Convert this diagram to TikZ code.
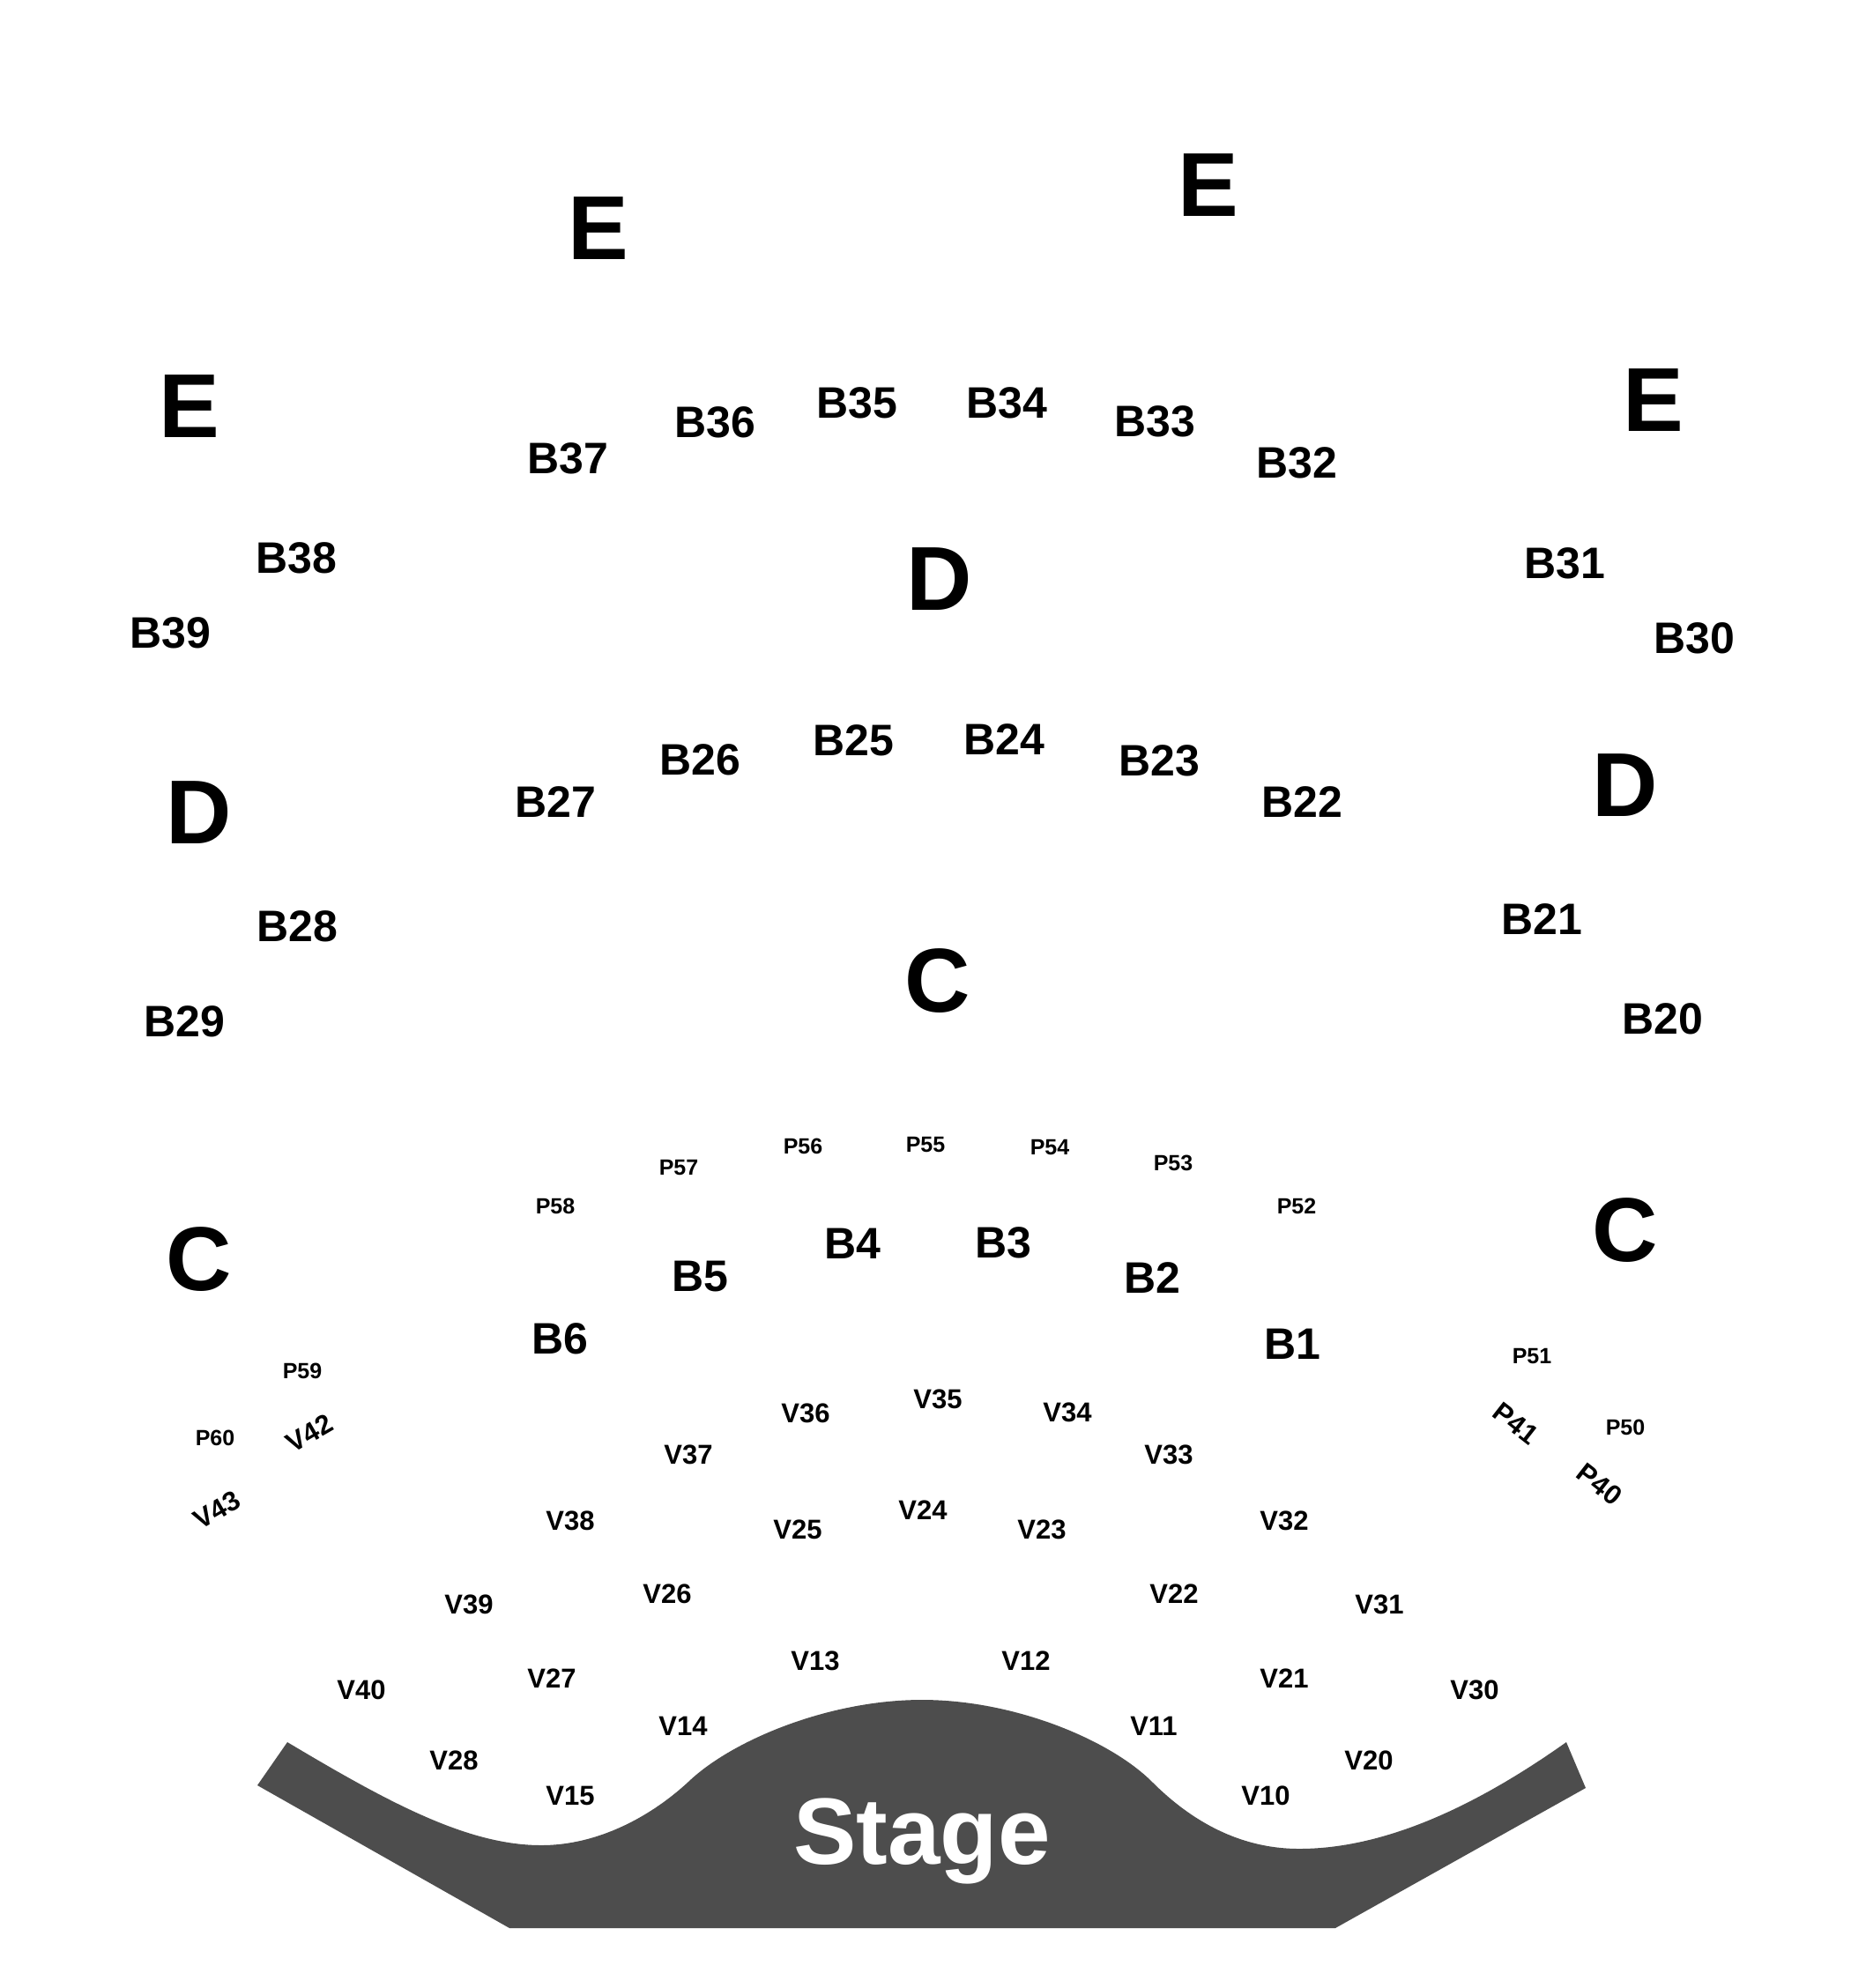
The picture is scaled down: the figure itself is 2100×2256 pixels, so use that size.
\documentclass[tikz,border=0pt]{standalone}
\usepackage{fontspec}
\setmainfont{Liberation Sans}
\begin{document}
\begin{tikzpicture}[x=0.5pt,y=-0.5pt,
  lbl/.style={inner sep=0pt,outer sep=0pt,text depth=0pt,font=\bfseries},
  zone/.style={lbl,font=\fontsize{51.5}{52}\selectfont\bfseries,text height=36.9pt},
  bsec/.style={lbl,font=\fontsize{25}{26}\selectfont\bfseries,text height=17.9pt},
  vsec/.style={lbl,font=\fontsize{15.5}{16}\selectfont\bfseries,text height=11.1pt},
  psec/.style={lbl,font=\fontsize{12.5}{13}\selectfont\bfseries,text height=8.95pt},
  stagelbl/.style={lbl,text=white,font=\fontsize{53.5}{54}\selectfont\bfseries,text height=38.3pt},
  stagefill/.style={fill=stagegrey,draw=none}]
\definecolor{stagegrey}{HTML}{4D4D4D}
\useasboundingbox (0,0) rectangle (2100,2256);
\fill[white] (0,0) rectangle (2100,2256);

% Stage
\path[stagefill] (326,1977)
  .. controls (440,2045) and (530,2094) .. (614,2094)
  .. controls (680,2094) and (740,2060) .. (781,2022)
  .. controls (830,1975) and (940,1929) .. (1046,1929)
  .. controls (1152,1929) and (1260,1975) .. (1307,2022)
  .. controls (1345,2060) and (1400,2098) .. (1474,2098)
  .. controls (1560,2098) and (1660,2060) .. (1777,1977)
  -- (1799,2029) -- (1515,2188) -- (578,2188) -- (292,2026) -- cycle;
\node[stagelbl] (stage) at (1046,2077) {Stage};

% Zone letters
\node[zone] (e1) at (679,258) {E};
\node[zone] (e2) at (1371,209) {E};
\node[zone] (e3) at (215,460) {E};
\node[zone] (e4) at (1876,453) {E};
\node[zone] (d1) at (1066,656) {D};
\node[zone] (d2) at (226,921) {D};
\node[zone] (d3) at (1844,890) {D};
\node[zone] (c1) at (1064,1112) {C};
\node[zone] (c2) at (226,1428) {C};
\node[zone] (c3) at (1844,1395) {C};

% B sections
\node[bsec] (b37) at (644,520) {B37};
\node[bsec] (b36) at (811,479) {B36};
\node[bsec] (b35) at (972,457) {B35};
\node[bsec] (b34) at (1142,457) {B34};
\node[bsec] (b33) at (1310,478) {B33};
\node[bsec] (b32) at (1471,525) {B32};
\node[bsec] (b38) at (336,633) {B38};
\node[bsec] (b39) at (193,718) {B39};
\node[bsec] (b31) at (1775,639) {B31};
\node[bsec] (b30) at (1922,724) {B30};
\node[bsec] (b26) at (794,862) {B26};
\node[bsec] (b25) at (968,840) {B25};
\node[bsec] (b24) at (1139,839) {B24};
\node[bsec] (b23) at (1315,863) {B23};
\node[bsec] (b27) at (630,910) {B27};
\node[bsec] (b22) at (1477,910) {B22};
\node[bsec] (b28) at (337,1051) {B28};
\node[bsec] (b29) at (209,1159) {B29};
\node[bsec] (b21) at (1749,1043) {B21};
\node[bsec] (b20) at (1886,1156) {B20};
\node[bsec] (b4) at (967,1411) {B4};
\node[bsec] (b3) at (1138,1410) {B3};
\node[bsec] (b5) at (794,1448) {B5};
\node[bsec] (b2) at (1307,1450) {B2};
\node[bsec] (b6) at (635,1519) {B6};
\node[bsec] (b1) at (1466,1525) {B1};

% P sections
\node[psec] (p56) at (911,1301) {P56};
\node[psec] (p55) at (1050,1299) {P55};
\node[psec] (p54) at (1191,1302) {P54};
\node[psec] (p57) at (770,1325) {P57};
\node[psec] (p53) at (1331,1320) {P53};
\node[psec] (p58) at (630,1369) {P58};
\node[psec] (p52) at (1471,1369) {P52};
\node[psec] (p59) at (343,1556) {P59};
\node[psec] (p60) at (244,1632) {P60};
\node[psec] (p51) at (1738,1539) {P51};
\node[psec] (p50) at (1844,1620) {P50};
\node[vsec,rotate=-38] (p41) at (1720,1615) {P41};
\node[vsec,rotate=-38] (p40) at (1815,1684) {P40};

% V sections
\node[vsec] (v36) at (914,1603) {V36};
\node[vsec] (v35) at (1064,1587) {V35};
\node[vsec] (v34) at (1211,1602) {V34};
\node[vsec] (v37) at (781,1650) {V37};
\node[vsec] (v33) at (1326,1650) {V33};
\node[vsec] (v38) at (647,1725) {V38};
\node[vsec] (v32) at (1457,1725) {V32};
\node[vsec] (v24) at (1047,1713) {V24};
\node[vsec] (v25) at (905,1735) {V25};
\node[vsec] (v23) at (1182,1735) {V23};
\node[vsec] (v26) at (757,1808) {V26};
\node[vsec] (v22) at (1332,1808) {V22};
\node[vsec] (v39) at (532,1820) {V39};
\node[vsec] (v31) at (1565,1820) {V31};
\node[vsec] (v13) at (925,1884) {V13};
\node[vsec] (v12) at (1164,1884) {V12};
\node[vsec] (v27) at (626,1904) {V27};
\node[vsec] (v21) at (1457,1904) {V21};
\node[vsec] (v40) at (410,1917) {V40};
\node[vsec] (v30) at (1673,1917) {V30};
\node[vsec] (v14) at (775,1958) {V14};
\node[vsec] (v11) at (1309,1958) {V11};
\node[vsec] (v28) at (515,1997) {V28};
\node[vsec] (v20) at (1553,1997) {V20};
\node[vsec] (v15) at (647,2037) {V15};
\node[vsec] (v10) at (1436,2037) {V10};
\node[vsec,rotate=30] (v42) at (351,1626) {V42};
\node[vsec,rotate=30] (v43) at (246,1713) {V43};
\end{tikzpicture}
\end{document}
